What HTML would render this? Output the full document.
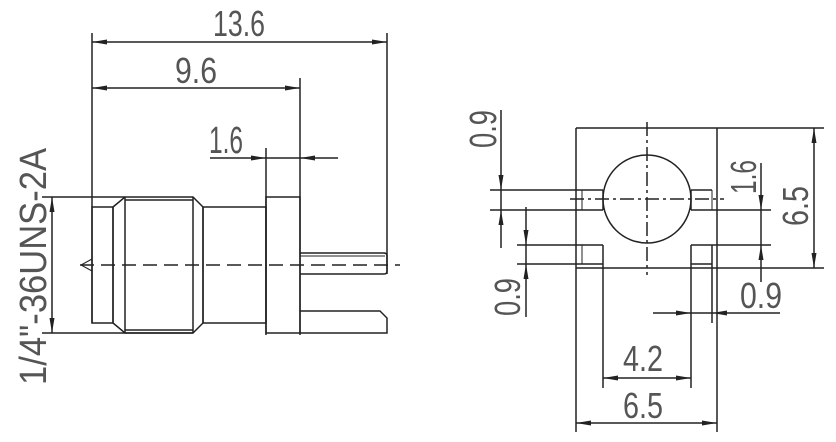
<!DOCTYPE html>
<html><head><style>html,body{margin:0;padding:0;background:#fff}svg{display:block}</style></head>
<body>
<svg width="836" height="442" viewBox="0 0 836 442" xmlns="http://www.w3.org/2000/svg">
<g stroke="#222" stroke-width="1.5" fill="none">
<!-- LEFT VIEW -->
<line x1="92" y1="33" x2="92" y2="323"/>
<line x1="387" y1="33" x2="387" y2="274"/>
<line x1="92" y1="42" x2="387" y2="42"/>
<line x1="300" y1="78" x2="300" y2="335"/>
<line x1="92" y1="88" x2="300" y2="88"/>
<line x1="266" y1="148" x2="266" y2="335"/>
<line x1="210" y1="158" x2="338" y2="158"/>
<rect x="92" y="207" width="21" height="116"/>
<path d="M113,207 L125,197 L193,197 L203,207 L203,323 L193,333 L125,333 L113,323 Z"/>
<line x1="125" y1="197" x2="125" y2="333"/>
<line x1="193" y1="197" x2="193" y2="333"/>
<line x1="125" y1="200" x2="193" y2="200"/>
<line x1="125" y1="330" x2="193" y2="330"/>
<rect x="203" y="207" width="63" height="116"/>
<rect x="266" y="197" width="34" height="136"/>
<path d="M300,253 L384,253 Q387,253 387,256 L387,271 Q387,274 384,274 L300,274"/>
<line x1="300" y1="256" x2="385" y2="256" stroke-width="1"/>
<path d="M300,311 L380,311 L387,318 L387,333 L300,333"/>
<line x1="80" y1="265" x2="400" y2="265" stroke-dasharray="14,7"/>
<path d="M92,259 L81,265 L92,271" stroke-width="1"/>
<line x1="42" y1="197" x2="125" y2="197"/>
<line x1="42" y1="333" x2="193" y2="333"/>
<line x1="52" y1="197" x2="52" y2="333"/>
<!-- RIGHT VIEW -->
<line x1="576" y1="128" x2="576" y2="432"/>
<line x1="717" y1="128" x2="717" y2="432"/>
<line x1="576" y1="128" x2="824" y2="128"/>
<line x1="576" y1="268" x2="824" y2="268"/>
<line x1="814" y1="128" x2="814" y2="268"/>
<circle cx="647" cy="199" r="44"/>
<line x1="647" y1="122" x2="647" y2="275" stroke-dasharray="14,4,3,4"/>
<line x1="570" y1="199" x2="724" y2="199" stroke-dasharray="14,4,3,4"/>
<line x1="490" y1="190" x2="603" y2="190"/>
<line x1="490" y1="210" x2="603" y2="210"/>
<line x1="603" y1="190" x2="603" y2="210"/>
<line x1="582" y1="190" x2="582" y2="210" stroke-width="1"/>
<line x1="691" y1="190" x2="712" y2="190"/>
<line x1="691" y1="190" x2="691" y2="210"/>
<line x1="712" y1="190" x2="712" y2="210" stroke-width="1"/>
<line x1="691" y1="210" x2="771" y2="210"/>
<line x1="691" y1="245" x2="771" y2="245"/>
<line x1="517" y1="245" x2="603" y2="245"/>
<line x1="517" y1="264" x2="603" y2="264"/>
<line x1="603" y1="245" x2="603" y2="388"/>
<line x1="582" y1="245" x2="582" y2="264" stroke-width="1"/>
<line x1="691" y1="245" x2="691" y2="388"/>
<line x1="691" y1="264" x2="712" y2="264"/>
<line x1="712" y1="245" x2="712" y2="323"/>
<line x1="761" y1="163" x2="761" y2="282"/>
<line x1="501" y1="110" x2="501" y2="248"/>
<line x1="526" y1="207" x2="526" y2="317"/>
<line x1="653" y1="313" x2="780" y2="313"/>
<line x1="603" y1="378" x2="691" y2="378"/>
<line x1="576" y1="423" x2="717" y2="423"/>
</g>
<g fill="#222">
<!-- horizontal arrows: right-pointing tip (x,y): x-15,y-2.5 -->
<polygon points="92,42 107,39.5 107,44.5"/>
<polygon points="387,42 372,39.5 372,44.5"/>
<polygon points="92,88 107,85.5 107,90.5"/>
<polygon points="300,88 285,85.5 285,90.5"/>
<polygon points="266,158 251,155.5 251,160.5"/>
<polygon points="300,158 315,155.5 315,160.5"/>
<polygon points="52,197 49.5,212 54.5,212"/>
<polygon points="52,333 49.5,318 54.5,318"/>
<polygon points="814,128 811.5,143 816.5,143"/>
<polygon points="814,268 811.5,253 816.5,253"/>
<polygon points="761,210 758.5,195 763.5,195"/>
<polygon points="761,245 758.5,260 763.5,260"/>
<polygon points="501,190 498.5,175 503.5,175"/>
<polygon points="501,210 498.5,225 503.5,225"/>
<polygon points="526,245 523.5,230 528.5,230"/>
<polygon points="526,264 523.5,279 528.5,279"/>
<polygon points="691,313 676,310.5 676,315.5"/>
<polygon points="712,313 727,310.5 727,315.5"/>
<polygon points="603,378 618,375.5 618,380.5"/>
<polygon points="691,378 676,375.5 676,380.5"/>
<polygon points="576,423 591,420.5 591,425.5"/>
<polygon points="717,423 702,420.5 702,425.5"/>
</g>
<g fill="#555" font-family="Liberation Sans, sans-serif" font-size="36">
<text x="213" y="36" textLength="52" lengthAdjust="spacingAndGlyphs">13.6</text>
<text x="175" y="83" textLength="42" lengthAdjust="spacingAndGlyphs">9.6</text>
<text x="209" y="153" textLength="34" lengthAdjust="spacingAndGlyphs" font-size="38">1.6</text>
<text transform="translate(46,385) rotate(-90)" textLength="237" lengthAdjust="spacingAndGlyphs" font-size="38">1/4"-36UNS-2A</text>
<text transform="translate(496,148) rotate(-90)" textLength="38" lengthAdjust="spacingAndGlyphs" font-size="38">0.9</text>
<text transform="translate(520,316) rotate(-90)" textLength="38" lengthAdjust="spacingAndGlyphs" font-size="36">0.9</text>
<text transform="translate(756,194) rotate(-90)" textLength="34" lengthAdjust="spacingAndGlyphs" font-size="36">1.6</text>
<text transform="translate(808,226) rotate(-90)" textLength="40" lengthAdjust="spacingAndGlyphs" font-size="36">6.5</text>
<text x="740" y="308" textLength="42" lengthAdjust="spacingAndGlyphs">0.9</text>
<text x="623" y="371" textLength="40" lengthAdjust="spacingAndGlyphs">4.2</text>
<text x="623" y="418" textLength="40" lengthAdjust="spacingAndGlyphs">6.5</text>
</g>
</svg>
</body></html>
